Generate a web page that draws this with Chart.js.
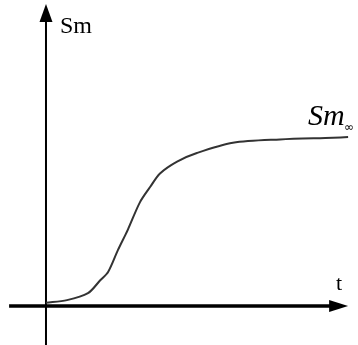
<!DOCTYPE html>
<html>
<head>
<meta charset="utf-8">
<script src="https://cdn.jsdelivr.net/npm/chart.js@4/dist/chart.umd.min.js"></script>
<style>
  html, body { margin: 0; padding: 0; background: #fff; }
  canvas { display: block; }
</style>
</head>
<body>
<canvas id="c" width="358" height="345"></canvas>
<script>
// Saturation curve: Sm as a function of t (Sm∞ normalised to 1)
const tValues  = [0, 0.7, 1.4, 1.8, 2.07, 2.4, 2.73, 3.13, 3.47, 3.8, 4.37, 5.03, 6.23, 7.8, 9.57, 10.07];
const smValues = [0.02, 0.035, 0.076, 0.15, 0.2, 0.33, 0.45, 0.61, 0.70, 0.78, 0.85, 0.90, 0.96, 0.98, 0.99, 0.994];

// Axis titles
const yTitle = 'Sm';
const xTitle = 't';
const limitLabel = 'Sm';
const limitSub = '∞';

// Visible extent of the axes (data units)
const xRange = [-1.533, 10.4];
const yRange = [-0.229, 1.8];
const xAxisStart = -1.23, xAxisTip = 10.07;
const yAxisTip = 1.776;

const axesPlugin = {
  id: 'arrowAxes',
  beforeDatasetsDraw(chart) {
    const ctx = chart.ctx;
    const xs = chart.scales.x, ys = chart.scales.y;
    const x0 = xs.getPixelForValue(0), y0 = ys.getPixelForValue(0);
    ctx.save();
    ctx.fillStyle = '#000';
    ctx.strokeStyle = '#000';
    // vertical axis
    ctx.lineWidth = 2;
    const yTop = ys.getPixelForValue(yAxisTip);
    ctx.beginPath();
    ctx.moveTo(x0, chart.height);
    ctx.lineTo(x0, yTop + 10);
    ctx.stroke();
    ctx.beginPath();
    ctx.moveTo(x0, yTop);
    ctx.lineTo(x0 - 6.5, yTop + 18);
    ctx.lineTo(x0 + 6.5, yTop + 18);
    ctx.closePath();
    ctx.fill();
    // horizontal axis
    ctx.lineWidth = 3.5;
    const xEnd = xs.getPixelForValue(xAxisTip);
    ctx.beginPath();
    ctx.moveTo(xs.getPixelForValue(xAxisStart), y0);
    ctx.lineTo(xEnd - 10, y0);
    ctx.stroke();
    ctx.beginPath();
    ctx.moveTo(xEnd, y0);
    ctx.lineTo(xEnd - 19, y0 - 6);
    ctx.lineTo(xEnd - 19, y0 + 6);
    ctx.closePath();
    ctx.fill();
    // titles
    ctx.textBaseline = 'alphabetic';
    ctx.textAlign = 'left';
    ctx.font = '24px "Liberation Serif", serif';
    ctx.fillText(yTitle, x0 + 14, 33);
    ctx.font = '22px "Liberation Serif", serif';
    ctx.fillText(xTitle, xEnd - 12, 290);
    ctx.font = 'italic 30px "Liberation Serif", serif';
    ctx.fillText(limitLabel, 308, 125);
    ctx.font = '12px "DejaVu Sans", sans-serif';
    ctx.fillText(limitSub, 344, 131);
    ctx.restore();
  }
};

new Chart(document.getElementById('c'), {
  type: 'line',
  data: {
    datasets: [{
      data: tValues.map((t, i) => ({ x: t, y: smValues[i] })),
      borderColor: '#333',
      borderWidth: 2,
      pointRadius: 0,
      tension: 0.3,
      fill: false
    }]
  },
  options: {
    responsive: false,
    animation: false,
    devicePixelRatio: 1,
    layout: { padding: 0 },
    plugins: { legend: { display: false }, tooltip: { enabled: false } },
    scales: {
      x: { type: 'linear', min: xRange[0], max: xRange[1], display: false },
      y: { type: 'linear', min: yRange[0], max: yRange[1], display: false }
    }
  },
  plugins: [axesPlugin]
});
</script>
</body>
</html>
